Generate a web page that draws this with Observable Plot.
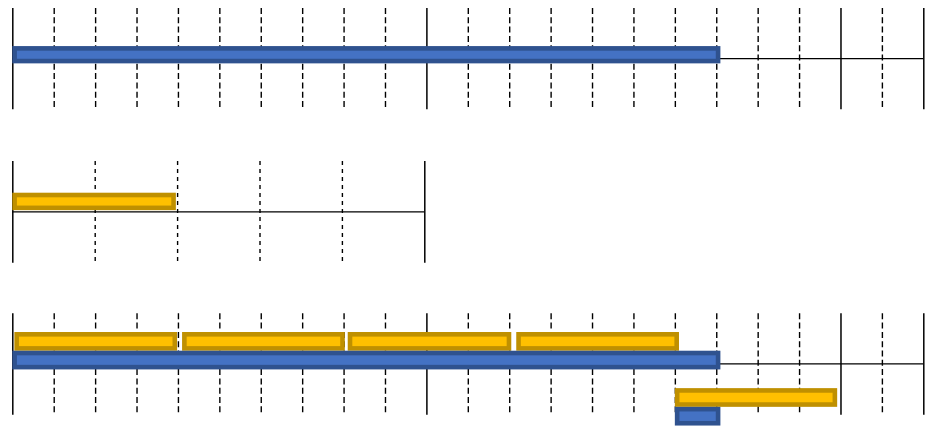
<!DOCTYPE html>
<html><head><meta charset="utf-8">
<script src="https://cdn.jsdelivr.net/npm/d3@7"></script>
<script src="https://cdn.jsdelivr.net/npm/@observablehq/plot@0.6"></script>
<style>
body{margin:0;background:#fff;}
#chart{position:relative;width:934px;height:431px;overflow:hidden;}
#chart svg{position:absolute;left:0;}
</style>
</head><body><div id="chart"></div>
<script>
// ---- Data ----
// Panel 1 (full timeline)
const p1Series = ["Blue"];
const p1Lane   = [1];
const p1Start  = [0];
const p1End    = [17.1];
// Panel 2 (short timeline)
const p2Series = ["Orange"];
const p2Lane   = [0];
const p2Start  = [0];
const p2End    = [3.97];
// Panel 3 (combined)
const p3Series = ["Orange","Orange","Orange","Orange","Blue","Orange","Blue"];
const p3Lane   = [0,0,0,0,1,3,4];
const p3Start  = [0.05,4.1,8.1,12.17,0,16,16];
const p3End    = [3.98,8.03,12.05,16.1,17.1,19.92,17.1];
// Grid ticks
const wideMajorTicks = [0,10,20,22];
const wideMinorTicks = [1,2,3,4,5,6,7,8,9,11,12,13,14,15,16,17,18,19,21];
const narrowMajorTicks = [0,10];
const narrowMinorTicks = [2,4,6,8];

const fills   = {Blue:"#4472C4", Orange:"#FFC000"};
const strokes = {Blue:"#2F528F", Orange:"#BF9000"};

function table(series, lane, start, end){
  return series.map((s,i)=>({series:s, lane:lane[i], start:start[i], end:end[i]}));
}

function panel({bars, xDomain, major, minor, top, height, mTop, mBottom, mRight, laneTop, laneH, dash, vInset}){
  const lineY = 2.68;
  const svg = Plot.plot({
    width: 934, height,
    marginLeft: 12.3, marginRight: mRight, marginTop: mTop, marginBottom: mBottom,
    x: {domain: xDomain, axis: null},
    y: {domain: [0, 5.42], range: [mTop, height - mBottom], axis: null},
    marks: [
      Plot.ruleX(minor, {stroke:"#000", strokeWidth:1.4, strokeDasharray: dash}),
      Plot.ruleX(major, {stroke:"#000", strokeWidth:1.5}),
      Plot.ruleY([lineY], {x1: () => xDomain[0], x2: () => xDomain[1], stroke:"#000", strokeWidth:1.3}),
      Plot.rect(bars, {
        x1: "start", x2: "end",
        y1: d => laneTop + d.lane, y2: d => laneTop + d.lane + laneH,
        fill: d => fills[d.series], stroke: d => strokes[d.series],
        strokeWidth: 4.6, insetLeft: 2.3, insetRight: 2.3,
        insetTop: 2.3 + vInset, insetBottom: 2.3 + vInset
      })
    ]
  });
  svg.style.top = top + "px";
  return svg;
}

const chart = document.getElementById("chart");
chart.appendChild(panel({
  bars: table(p1Series,p1Lane,p1Start,p1End), xDomain:[0,22],
  major: wideMajorTicks, minor: wideMinorTicks,
  top:0, height:150, mTop:8, mBottom:40.7, mRight:10.7, laneTop:1, laneH:1, dash:"6,3.3", vInset:0.7
}));
chart.appendChild(panel({
  bars: table(p2Series,p2Lane,p2Start,p2End), xDomain:[0,10],
  major: narrowMajorTicks, minor: narrowMinorTicks,
  top:150, height:150, mTop:11, mBottom:37.3, mRight:509.7, laneTop:1.69, laneH:0.93, dash:"4,4", vInset:0
}));
chart.appendChild(panel({
  bars: table(p3Series,p3Lane,p3Start,p3End), xDomain:[0,22],
  major: wideMajorTicks, minor: wideMinorTicks,
  top:300, height:131, mTop:13.3, mBottom:16.3, mRight:10.7, laneTop:1, laneH:1, dash:"6,3.3", vInset:0
}));
</script>
</body></html>
